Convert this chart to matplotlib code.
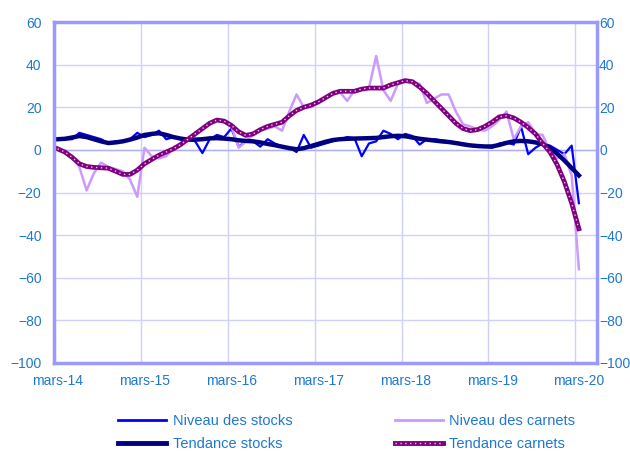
import numpy as np
import matplotlib
matplotlib.use("Agg")
import matplotlib.pyplot as plt
from matplotlib.lines import Line2D
from matplotlib.legend_handler import HandlerTuple

plt.rcParams['font.family'] = ['Liberation Sans', 'DejaVu Sans']

# Monthly data, mars-14 .. mars-20 (73 months)
tick_labels = ['mars-14', 'mars-15', 'mars-16', 'mars-17', 'mars-18', 'mars-19', 'mars-20']

niveau_stocks = [5, 5, 5, 8, 7, 6, 5, 3, 4, 4, 5, 8,
                 6, 7, 9, 5, 6, 5, 5, 4, -1.5, 5, 7, 6,
                 10, 1.5, 4, 4, 1.5, 5, 3, 1.5, 1, -1, 7, 1,
                 2, 3, 4, 5, 6, 5.5, -3, 3, 4, 9, 7.5, 5,
                 7.5, 6.5, 2.5, 5, 5, 4.5, 4, 3.5, 3, 2, 2, 1.5,
                 1, 3, 3.5, 2.5, 11, -2, 1, 3, 2, 0, -2, 2,
                 -25]

tendance_stocks = [5, 5.2, 5.8, 6.5, 6, 5, 4, 3.2, 3.5, 4, 4.8, 5.8,
                   7, 7.5, 7.8, 7, 6, 5.3, 4.8, 4.8, 5, 5.4, 5.5, 5.3,
                   5, 4.5, 4.2, 4, 3.5, 2.8, 2.2, 1.5, 0.8, 0.3, 0.8, 1.8,
                   2.8, 3.8, 4.6, 5, 5.2, 5.3, 5.4, 5.5, 5.6, 6, 6.4, 6.6,
                   6.4, 5.8, 5.2, 4.8, 4.4, 4, 3.7, 3.2, 2.6, 2.1, 1.8, 1.6,
                   1.6, 2.3, 3.3, 4, 4.2, 4, 3.5, 2.7, 1, -1.8, -5, -8.5,
                   -12]

niveau_carnets = [0, -1, -3, -8, -19, -11, -6, -8, -9, -10, -14, -22,
                  1, -3, -4, -3, 1, 3, 5, 7, 10, 12, 14, 13,
                  11, 1, 4, 7, 9, 10, 11, 9, 18, 26, 20, 20,
                  22, 24, 26, 27, 23, 28, 29, 29, 44, 28, 23, 31,
                  32, 32, 31, 22, 24, 26, 26, 18, 12, 11, 9.5, 9,
                  11, 14, 18, 5, 11, 13, 7.5, 7, -1, -4, -2, -12,
                  -56]

tendance_carnets = [0.5, -1, -3.5, -6.5, -7.8, -8.2, -8.4, -8.6, -10, -11.5, -11.5, -9.5,
                    -6.5, -4.5, -2.5, -1, 0.5, 2.5, 5, 7.5, 10, 12.5, 14, 13.5,
                    11.5, 8.5, 6.8, 7.5, 9.5, 11, 12, 13, 16, 18.5, 20, 21,
                    22.5, 24.5, 26.5, 27.5, 27.5, 27.5, 28.5, 29, 29, 29, 30.5, 31.5,
                    32.5, 32, 29.5, 26.5, 23, 19.5, 16, 12.5, 10, 9, 9.5, 11,
                    13, 15.5, 16, 15, 13, 10.5, 7.5, 3, -1, -7, -15, -25,
                    -37]

x = np.arange(len(niveau_stocks))
text_col = '#1F78D0'
grid_col = '#D0D0FF'
axis_col = '#9999FF'

fig = plt.figure(figsize=(6.3, 4.51), dpi=100)
ax = fig.add_axes([54 / 630, 88 / 451, 543 / 630, 341 / 451])

ax.plot(x, niveau_stocks, color='#0000FF', lw=1.6)
ax.plot(x, niveau_carnets, color='#CC99FF', lw=1.8)
ax.plot(x, tendance_stocks, color='#000080', lw=3.2)
ax.plot(x, tendance_carnets, color='#800080', lw=3.4)
ax.plot(x, tendance_carnets, color='#E8C8E8', lw=1.0, ls=(0, (1, 2.5)))

ax.set_xlim(-0.5, 74.5)
ax.set_ylim(-100, 60)
ax.set_yticks(np.arange(-100, 61, 20))
ax.set_xticks(np.arange(0, 73, 12))
ax.set_xticklabels(tick_labels)

for v in np.arange(-80, 60, 20):
    ax.axhline(v, color=grid_col, lw=1.0, zorder=0)
for v in np.arange(11.5, 74, 12):
    ax.axvline(v, color=grid_col, lw=1.0, zorder=0)
ax.axhline(0, color='#B0B0F0', lw=1.0, zorder=0)

for s in ax.spines.values():
    s.set_color(axis_col)
    s.set_linewidth(2.5)

ax.tick_params(axis='both', which='both', length=0, colors=text_col, labelsize=10)
ax.tick_params(axis='y', pad=9)
ax.tick_params(axis='x', pad=8)

ax2 = ax.twinx()
ax2.set_ylim(-100, 60)
ax2.set_yticks(np.arange(-100, 61, 20))
ax2.tick_params(axis='y', length=0, colors=text_col, labelsize=10, pad=1.5)
for s in ax2.spines.values():
    s.set_visible(False)

h1 = Line2D([], [], color='#0000FF', lw=2)
h2 = Line2D([], [], color='#CC99FF', lw=2)
h3 = Line2D([], [], color='#000080', lw=3.5)
h4 = (Line2D([], [], color='#800080', lw=3.5),
      Line2D([], [], color='#E8C8E8', lw=1.0, ls=(0, (1, 2.5))))
leg = fig.legend([h1, h3, h2, h4],
                 ['Niveau des stocks', 'Tendance stocks', 'Niveau des carnets', 'Tendance carnets'],
                 ncol=2, loc='upper left', bbox_to_anchor=(105 / 630, 1 - 401 / 451),
                 frameon=False, fontsize=10.5, handlelength=3.3, columnspacing=7.0,
                 labelspacing=0.62, handletextpad=0.45,
                 handler_map={tuple: HandlerTuple(ndivide=1)})
for t in leg.get_texts():
    t.set_color(text_col)

fig.savefig('out.png', dpi=100)
